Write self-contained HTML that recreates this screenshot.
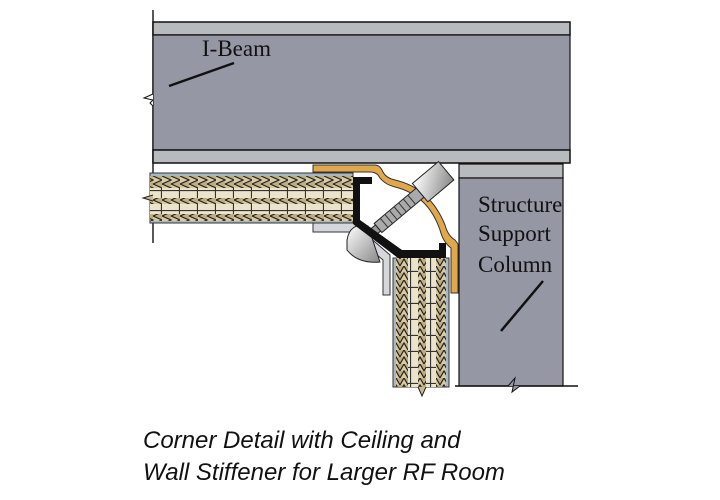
<!DOCTYPE html>
<html><head><meta charset="utf-8"><style>
html,body{margin:0;padding:0;background:#fff;}
svg{display:block;}
</style></head><body>
<svg width="720" height="500" viewBox="0 0 720 500" xmlns="http://www.w3.org/2000/svg">
<defs>
<pattern id="brickH" x="0" y="0" width="18" height="10" patternUnits="userSpaceOnUse">
<rect width="18" height="10" fill="#ebe3cb"/>
<path d="M0 0.5H18M17.5 0V10" stroke="#333" stroke-width="1.2"/>
</pattern>
<pattern id="chevH" x="0" y="0" width="18" height="8" patternUnits="userSpaceOnUse">
<rect width="18" height="8" fill="#bfae80"/>
<path d="M0 0L9 4L0 8M9 0L18 4L9 8" fill="#d8cba4" stroke="#222" stroke-width="1.2"/>
</pattern>
<pattern id="brickV" x="0" y="0" width="10" height="16" patternUnits="userSpaceOnUse">
<rect width="10" height="16" fill="#ebe3cb"/>
<path d="M0.5 0V16M0 15.5H10" stroke="#333" stroke-width="1.2"/>
</pattern>
<pattern id="chevV" x="0" y="0" width="8" height="14" patternUnits="userSpaceOnUse">
<rect width="8" height="14" fill="#bfae80"/>
<path d="M0 14L4 7L8 14M0 7L4 0L8 7" fill="#d8cba4" stroke="#222" stroke-width="1.2"/>
</pattern>
<linearGradient id="bolt" x1="0" y1="0" x2="1" y2="1">
<stop offset="0" stop-color="#fff"/><stop offset="1" stop-color="#888"/>
</linearGradient>
</defs>

<line x1="153" y1="10" x2="153" y2="243" stroke="#222" stroke-width="1.5"/>

<rect x="153" y="22" width="417" height="13" fill="#b8bbbe" stroke="#111" stroke-width="1.5"/>
<rect x="153" y="35" width="417" height="115" fill="#9597a4" stroke="#111" stroke-width="1.2"/>
<rect x="153" y="150" width="417" height="13" fill="#b8bbbe" stroke="#111" stroke-width="1.5"/>
<path d="M153 94 L144 98 L153 100 L150 103 L153 106" fill="#fff" stroke="#111" stroke-width="1"/>
<line x1="169" y1="86" x2="234" y2="63" stroke="#111" stroke-width="2.5"/>
<text x="202" y="56" font-family="Liberation Serif, serif" font-size="23" fill="#111">I-Beam</text>

<rect x="459" y="164" width="104" height="14" fill="#b8bbbe" stroke="#111" stroke-width="1.2"/>
<rect x="459" y="178" width="104" height="208" fill="#9597a4" stroke="#111" stroke-width="1.2"/>
<line x1="455" y1="386" x2="578" y2="386" stroke="#111" stroke-width="1.5"/>
<path d="M508 386 L515 378 L512 392 L520 386" fill="#9597a4" stroke="#111" stroke-width="1"/>
<text font-family="Liberation Serif, serif" font-size="23" fill="#111"><tspan x="478" y="212">Structure</tspan><tspan x="478" y="241">Support</tspan><tspan x="478" y="272">Column</tspan></text>
<line x1="501" y1="331" x2="543" y2="281" stroke="#111" stroke-width="2.5"/>

<rect x="150" y="173" width="203" height="50" fill="#a9b8c0" stroke="#333" stroke-width="1"/>
<rect x="150" y="176" width="203" height="12" fill="url(#chevH)"/>
<rect x="150" y="188" width="203" height="10" fill="url(#brickH)"/>
<rect x="150" y="198" width="203" height="6" fill="url(#chevH)"/>
<rect x="150" y="204" width="203" height="10" fill="url(#brickH)"/>
<rect x="150" y="214" width="203" height="7" fill="url(#chevH)"/>
<path d="M153 195 L143 198 L153 201" fill="#c9b98c" stroke="#222"/>

<rect x="393" y="258" width="56" height="129" fill="#a9b8c0" stroke="#333" stroke-width="1"/>
<rect x="396" y="258" width="12" height="129" fill="url(#chevV)"/>
<rect x="408" y="258" width="10" height="129" fill="url(#brickV)"/>
<rect x="418" y="258" width="8" height="129" fill="url(#chevV)"/>
<rect x="426" y="258" width="10" height="129" fill="url(#brickV)"/>
<rect x="436" y="258" width="10" height="129" fill="url(#chevV)"/>
<path d="M418 387 L422 396 L426 387" fill="#c9b98c" stroke="#222"/>

<path d="M313 223 L353 223 L390 255 L390 295 L383 295 L383 260 L350 232 L313 232 Z" fill="#d4d8dc" stroke="#333" stroke-width="1"/>

<path d="M313 165 L375 165 Q380 165 383 172 Q386 178 395 180 Q430 188 445 225 Q448 236 455 240 L458 244 L458 293 L451 293 L451 248 Q443 242 440 230 Q428 195 395 187 Q383 184 378 175 Q375 172 370 172 L313 172 Z" fill="#e0a84a" stroke="#333" stroke-width="1"/>

<g transform="translate(378,228) rotate(-40)">
<rect x="0" y="-6" width="55" height="12" fill="#aaa" stroke="#222" stroke-width="1"/>
<path d="M8 -6V6M14 -6V6M20 -6V6M26 -6V6M32 -6V6M38 -6V6M44 -6V6" stroke="#333"/>
<rect x="55" y="-12" width="34" height="24" fill="url(#bolt)" stroke="#222" stroke-width="1"/>
<rect x="-20" y="-4" width="20" height="8" fill="#999" stroke="#222"/>
</g>
<path d="M347 240 Q350 222 368 226 L380 262 Q358 264 347 250 Z" fill="url(#bolt)" stroke="#222" stroke-width="1"/>

<path d="M353 177 L372 177 L372 184 L360 184 L360 220 L402 250 L439 250 L439 243 L446 243 L446 258 L398 258 L353 224 Z" fill="#111"/>

<text font-family="Liberation Sans, sans-serif" font-style="italic" font-size="24" fill="#111"><tspan x="143" y="448">Corner Detail with Ceiling and</tspan><tspan x="143" y="480">Wall Stiffener for Larger RF Room</tspan></text>
</svg>
</body></html>
